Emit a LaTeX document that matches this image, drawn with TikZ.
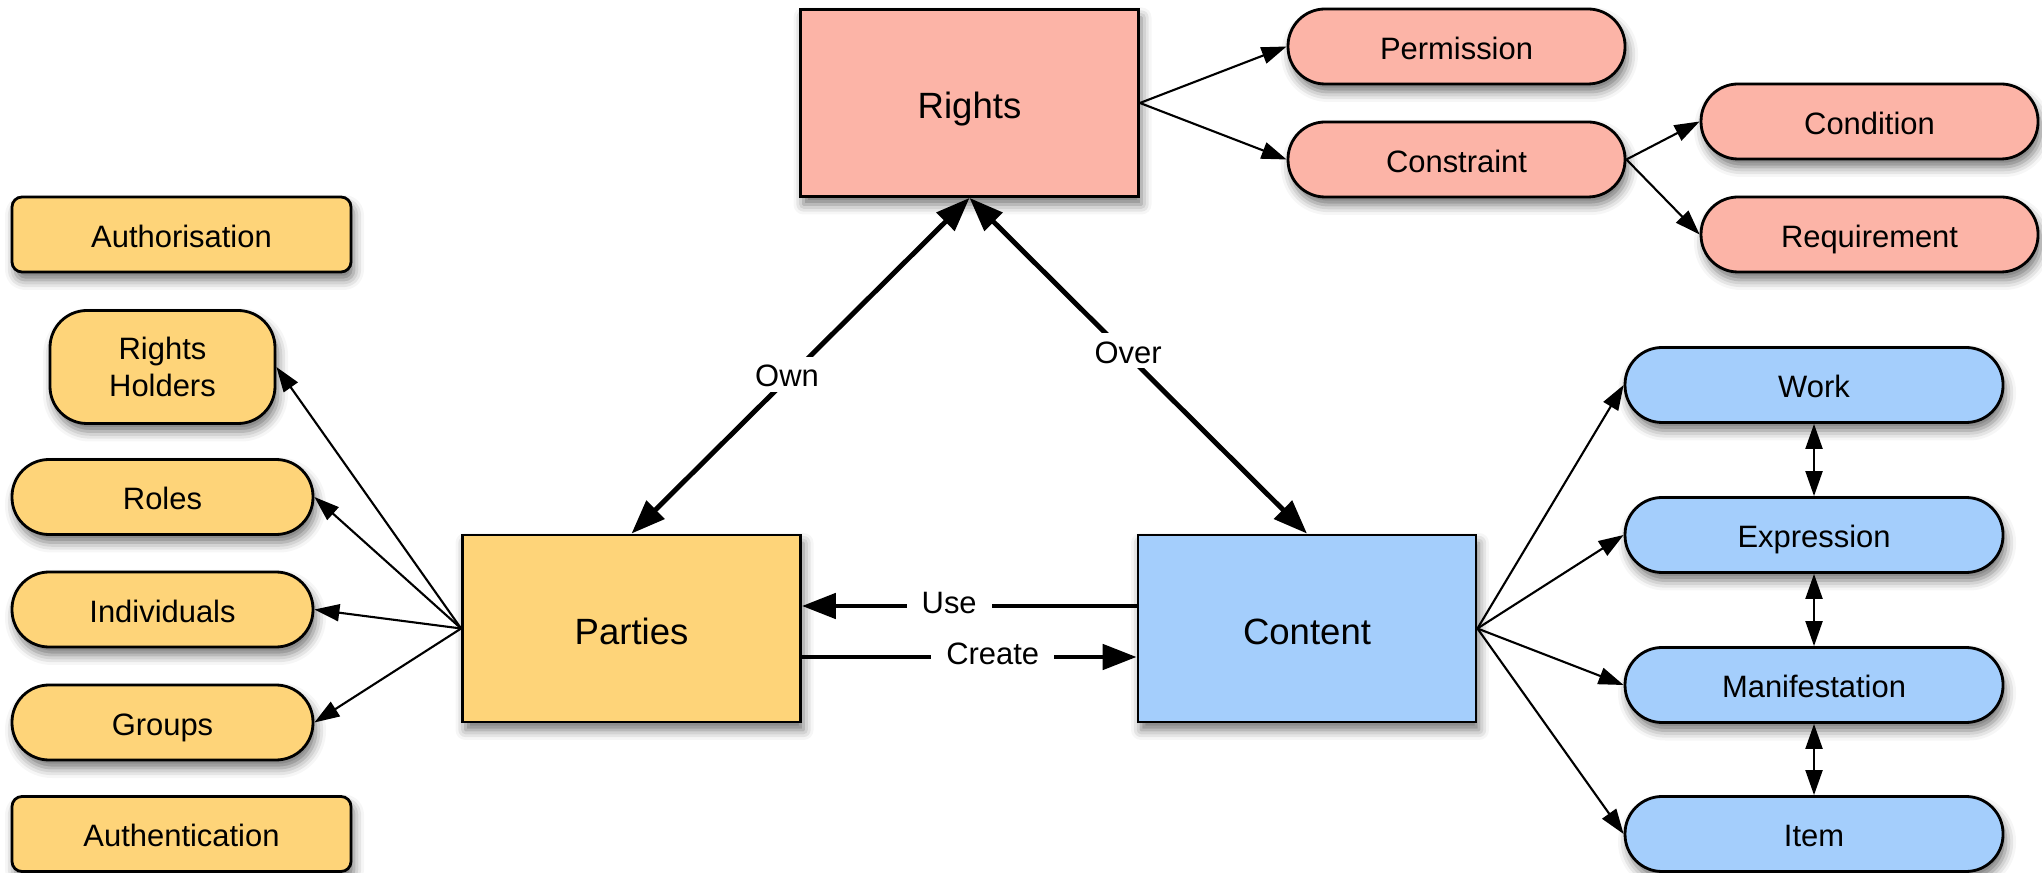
\documentclass[tikz,border=0pt]{standalone}
\usepackage{fontspec}
\setmainfont{Liberation Sans}
\usetikzlibrary{arrows.meta}
\usetikzlibrary{shadows.blur}

\definecolor{partyyellow}{RGB}{254,212,121}
\definecolor{rightspink}{RGB}{252,180,167}
\definecolor{contentblue}{RGB}{164,206,252}

\begin{document}
\begin{tikzpicture}[
  >={Triangle[length=2.5mm,width=1.7mm]},
  every node/.style={font=\fontsize{8.8}{10.7}\selectfont, text height=0.72em, text depth=0pt},
  softshadow/.style={blur shadow={shadow xshift=0.3mm,shadow yshift=-0.8mm,shadow blur radius=1mm,shadow opacity=55}},
  bigbox/.style={draw, line width=0.8pt, softshadow, minimum width=3.38cm, minimum height=1.87cm, text height=0.9em, font=\fontsize{10.4}{12}\selectfont},
  pill/.style={draw, line width=0.8pt, rounded corners=3.7mm, softshadow, minimum height=0.75cm, inner sep=0pt},
  tab/.style={draw, line width=0.8pt, rounded corners=1mm, softshadow, minimum width=3.39cm, minimum height=0.75cm, inner sep=0pt},
  link/.style={->, line width=0.6pt},
  heavy/.style={line width=1.4pt, >={Triangle[length=3.4mm,width=2.5mm]}},
  rel/.style={fill=white, inner xsep=1.5mm, inner ysep=0.5mm, yshift=0.5mm}
]
\useasboundingbox (0,0) rectangle (20.42,8.72);

% the three main boxes
\node[bigbox, fill=rightspink] (rights) at (9.695,7.69) {Rights};
\node[bigbox, fill=partyyellow] (parties) at (6.315,2.435) {Parties};
\node[bigbox, fill=contentblue] (content) at (13.07,2.435) {Content};

% parties side
\node[tab, fill=partyyellow] (authorisation) at (1.815,6.375) {Authorisation};
\node[tab, fill=partyyellow] (authentication) at (1.815,0.38) {Authentication};
\node[pill, fill=partyyellow, minimum width=2.25cm, minimum height=1.13cm, align=center, text height=, text depth=] (holders) at (1.625,5.05) {Rights\\Holders};
\draw[link] (parties.west) -- (holders.east);
\foreach \n/\t/\y in {roles/Roles/3.75, individuals/Individuals/2.625, groups/Groups/1.495} {
 \node[pill, fill=partyyellow, minimum width=3.01cm] (\n) at (1.625,\y) {\t};
 \draw[link] (parties.west) -- (\n.east);
}

% rights side
\node[pill, fill=rightspink, minimum width=3.37cm] (permission) at (14.565,8.255) {Permission};
\node[pill, fill=rightspink, minimum width=3.37cm] (constraint) at (14.565,7.125) {Constraint};
\node[pill, fill=rightspink, minimum width=3.37cm] (condition) at (18.695,7.505) {Condition};
\node[pill, fill=rightspink, minimum width=3.37cm] (requirement) at (18.695,6.375) {Requirement};
\draw[link] (rights.east) -- (permission.west);
\draw[link] (rights.east) -- (constraint.west);
\draw[link] (constraint.east) -- (condition.west);
\draw[link] (constraint.east) -- (requirement.west);

% content side
\foreach \n/\t/\y in {work/Work/4.87, expression/Expression/3.37, manifestation/Manifestation/1.87, item/Item/0.38} {
 \node[pill, fill=contentblue, minimum width=3.78cm] (\n) at (18.14,\y) {\t};
 \draw[link] (content.east) -- (\n.west);
}
\draw[link, <->] (work) -- (expression);
\draw[link, <->] (expression) -- (manifestation);
\draw[link, <->] (manifestation) -- (item);

% relations between the main boxes
\draw[heavy, <->] (parties.north) -- node[rel, pos=0.46] {Own} (rights.south);
\draw[heavy, <->] (rights.south) -- node[rel, pos=0.47] {Over} (content.north);
\draw[heavy, ->] ([yshift=2.25mm]content.west) -- node[rel, pos=0.56] {Use} ([yshift=2.25mm]parties.east);
\draw[heavy, ->] ([yshift=-2.85mm]parties.east) -- node[rel, pos=0.57] {Create} ([yshift=-2.85mm]content.west);
\end{tikzpicture}
\end{document}
